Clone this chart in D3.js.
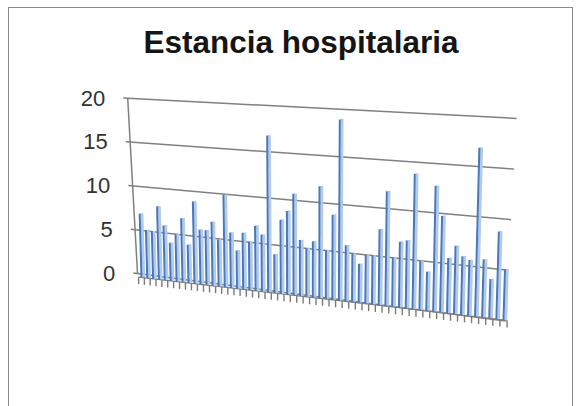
<!DOCTYPE html>
<html>
<head>
<meta charset="utf-8">
<script src="https://cdn.jsdelivr.net/npm/d3@7"></script>
<style>
  html, body { margin: 0; padding: 0; background: #fff; }
  svg { display: block; }
</style>
</head>
<body>
<svg id="chart" width="579" height="406"></svg>
<script>
// ---- data ----
const title = "Estancia hospitalaria";
const categories = [1, 2, 3, 4, 5, 6, 7, 8, 9, 10, 11, 12, 13, 14, 15, 16, 17, 18, 19, 20,
  21, 22, 23, 24, 25, 26, 27, 28, 29, 30, 31, 32, 33, 34, 35, 36, 37, 38, 39, 40,
  41, 42, 43, 44, 45, 46, 47, 48, 49, 50, 51, 52, 53, 54, 55, 56, 57];
const estancia = [7.3, 5.5, 5.4, 8.3, 6.2, 4.3, 5.3, 7.2, 4.3, 9.2,
  6.1, 6.1, 7.1, 5.2, 10.2, 6.1, 4.2, 6.2, 5.3, 7.1,
  6.2, 17.0, 4.2, 8.0, 9.0, 10.9, 6.0, 5.2, 6.0, 11.9,
  5.2, 9.0, 19.1, 5.9, 5.1, 4.1, 5.1, 5.1, 7.9, 11.9,
  5.1, 6.8, 7.0, 13.9, 5.0, 4.0, 12.8, 9.8, 5.6, 6.9,
  5.9, 5.6, 16.9, 5.8, 3.9, 8.7, 5.0];
const yTicks = [0, 5, 10, 15, 20];
const yTickLabels = ["0", "5", "10", "15", "20"];

// ---- setup ----
const svg = d3.select("#chart");
const FONT = "'Liberation Sans', Arial, Helvetica, sans-serif";
const lerp = (a, b, t) => a + (b - a) * t;

// chart area frame
svg.append("rect")
  .attr("x", 8.5).attr("y", 7.5)
  .attr("width", 564).attr("height", 420)
  .attr("fill", "#fff").attr("stroke", "#8a8a8a").attr("stroke-width", 1);

svg.append("text")
  .attr("x", 301).attr("y", 53)
  .attr("text-anchor", "middle")
  .attr("font-family", FONT)
  .attr("font-weight", "bold")
  .attr("font-size", 31.5)
  .attr("fill", "#151515")
  .text(title);

// ---- scales ----
// value -> fraction of wall height
const yScale = d3.scaleLinear().domain([0, 20]).range([0, 1]);
// category index -> fraction along the (perspective-warped) floor
const xScale = d3.scaleLinear().domain([0, categories.length - 1]).range([0, 1]);
const warp = u => u * (1 + 0.12 * u) / 1.12;

// back wall: left and right edges of the gridlines at value 0 and 20
const wallL = { x0: 133.3, y0: 273, x1: 123.3, y1: 98 };
const wallR = { x0: 505.5, y0: 321, x1: 516.7, y1: 118.4 };
function wallPoint(side, v) {
  const t = yScale(v);
  return [lerp(side.x0, side.x1, t), lerp(side.y0, side.y1, t)];
}

// floor row where the columns stand
const row = { x0: 141.5, y0: 277.5, x1: 503.5, y1: 320, h0: 175, h1: 202, lean0: -5, lean1: 6 };
function barPoint(i, v) {
  const f = warp(xScale(i));
  const xb = lerp(row.x0, row.x1, f), yb = lerp(row.y0, row.y1, f);
  const t = yScale(v);
  return [xb + t * lerp(row.lean0, row.lean1, f), yb - t * lerp(row.h0, row.h1, f)];
}

// ---- gridlines and value axis ----
const grid = svg.append("g");
yTicks.forEach(v => {
  const a = wallPoint(wallL, v), b = wallPoint(wallR, v);
  grid.append("line")
    .attr("x1", a[0]).attr("y1", a[1]).attr("x2", b[0]).attr("y2", b[1])
    .attr("stroke", "#808080").attr("stroke-width", 1.5);
});
const axTop = wallPoint(wallL, 20), axBot = wallPoint(wallL, 0);
grid.append("line")
  .attr("x1", axTop[0] + 4.4).attr("y1", axTop[1])
  .attr("x2", axBot[0] + 4.2).attr("y2", axBot[1])
  .attr("stroke", "#808080").attr("stroke-width", 1.5);

const labels = svg.append("g");
yTicks.forEach((v, k) => {
  const p = wallPoint(wallL, v);
  labels.append("text")
    .attr("x", p[0] - 18).attr("y", p[1] + 7.5)
    .attr("text-anchor", "end")
    .attr("font-family", FONT)
    .attr("font-size", 22)
    .attr("fill", "#333")
    .text(yTickLabels[k]);
});

// ---- floor edge and category ticks ----
const floor = svg.append("g");
const f0 = barPoint(-0.5, 0), f1 = barPoint(categories.length - 0.5, 0);
floor.append("line")
  .attr("x1", f0[0]).attr("y1", f0[1]).attr("x2", f1[0]).attr("y2", f1[1])
  .attr("stroke", "#808080").attr("stroke-width", 1.3);
d3.range(-0.5, categories.length, 1).forEach(i => {
  const p = barPoint(i, 0);
  floor.append("line")
    .attr("x1", p[0]).attr("y1", p[1]).attr("x2", p[0]).attr("y2", p[1] + 7)
    .attr("stroke", "#7a7a7a").attr("stroke-width", 1.4);
});

// ---- columns ----
const bars = svg.append("g");
estancia.forEach((v, i) => {
  const b = barPoint(i, 0), t = barPoint(i, v);
  // side face
  bars.append("line")
    .attr("x1", b[0] + 2.3).attr("y1", b[1] - 0.4)
    .attr("x2", t[0] + 2.3).attr("y2", t[1] - 0.4)
    .attr("stroke", "#b3cae8").attr("stroke-width", 2.8);
  // front face
  bars.append("line")
    .attr("x1", b[0]).attr("y1", b[1])
    .attr("x2", t[0]).attr("y2", t[1])
    .attr("stroke", "#4778b8").attr("stroke-width", 2);
});
</script>
</body>
</html>
